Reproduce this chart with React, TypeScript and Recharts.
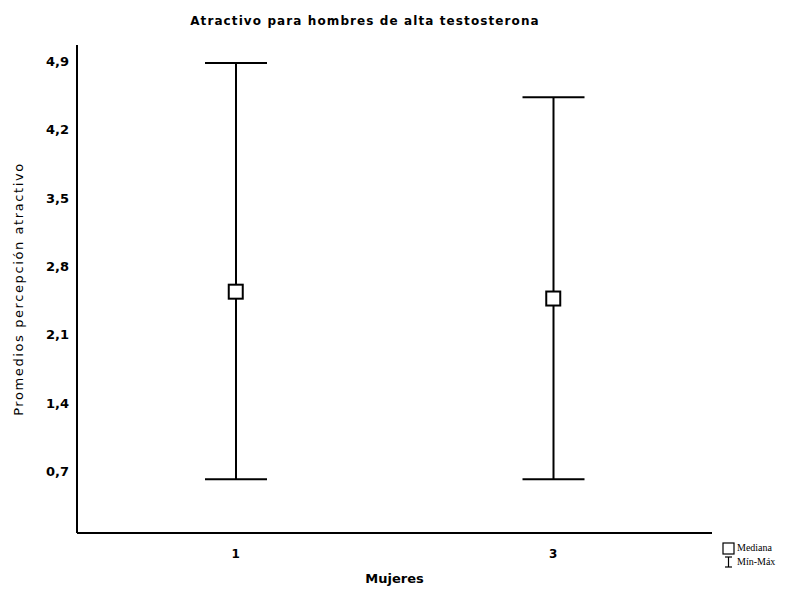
import React from 'react';
import { ComposedChart, Bar, Scatter, XAxis, YAxis } from 'recharts';

const categories = ['1', '3'];
const maxValues = [4.88, 4.53];
const minValues = [0.62, 0.62];
const medianValues = [2.54, 2.47];
const yTicks = [0.7, 1.4, 2.1, 2.8, 3.5, 4.2, 4.9];

const data = categories.map((c, i) => ({
  cat: c,
  range: [minValues[i], maxValues[i]],
  median: medianValues[i],
}));

const FONT = '"DejaVu Sans", Verdana, sans-serif';

const RangeShape = (props: any) => {
  const { x, y, width, height } = props;
  const top = Math.min(y, y + height);
  const bottom = Math.max(y, y + height);
  const cx = x + width / 2;
  return (
    <g stroke="#000">
      <line x1={cx} x2={cx} y1={top} y2={bottom} strokeWidth={2} />
      <line x1={x} x2={x + width} y1={top} y2={top} strokeWidth={2} />
      <line x1={x} x2={x + width} y1={bottom} y2={bottom} strokeWidth={2} />
    </g>
  );
};

const MedianShape = (props: any) => {
  const { cx, cy } = props;
  return <rect x={cx - 7} y={cy - 7} width={14} height={14} fill="#fff" stroke="#000" strokeWidth={2} />;
};

const fmt = (v: number) => v.toFixed(1).replace('.', ',');

export default function App() {
  return (
    <div style={{ position: 'absolute', left: 0, top: 0, width: 794, height: 594, background: '#fff' }}>
      <div
        style={{
          position: 'absolute', left: 0, width: 730, top: 14, textAlign: 'center',
          fontFamily: FONT, fontWeight: 'bold', fontSize: 12, letterSpacing: 1.1, color: '#000',
        }}
      >
        Atractivo para hombres de alta testosterona
      </div>
      <ComposedChart width={794} height={594} data={data} margin={{ top: 45, right: 82, bottom: 6, left: 0 }}>
        <XAxis
          dataKey="cat"
          type="category"
          height={55}
          axisLine={{ stroke: '#000', strokeWidth: 2 }}
          tickLine={false}
          tick={{ fill: '#000', fontSize: 12, fontWeight: 'bold', fontFamily: FONT }}
          tickMargin={10}
          label={{ value: 'Mujeres', position: 'insideBottom', offset: 5, fill: '#000', fontSize: 13, fontWeight: 'bold', fontFamily: FONT }}
        />
        <YAxis
          type="number"
          domain={[0.07, 5.065]}
          ticks={yTicks}
          width={77}
          interval={0}
          allowDataOverflow
          tickFormatter={fmt}
          axisLine={{ stroke: '#000', strokeWidth: 2 }}
          tickLine={false}
          tick={{ fill: '#000', fontSize: 13, fontWeight: 'bold', fontFamily: FONT }}
          label={{ value: 'Promedios percepción atractivo', angle: -90, position: 'insideLeft', offset: 18, style: { textAnchor: 'middle', letterSpacing: 1.6 }, fill: '#000', fontSize: 13, fontFamily: FONT }}
        />
        <Bar dataKey="range" barSize={62} shape={<RangeShape />} isAnimationActive={false} />
        <Scatter dataKey="median" shape={<MedianShape />} isAnimationActive={false} />
      </ComposedChart>
      <div style={{ position: 'absolute', left: 722, top: 541, fontFamily: '"Liberation Serif", serif', fontSize: 10, color: '#000', lineHeight: '14px' }}>
        <div style={{ display: 'flex', alignItems: 'center' }}>
          <svg width={13} height={13} style={{ marginRight: 2 }}>
            <rect x={1} y={1} width={11} height={11} fill="#fff" stroke="#000" strokeWidth={1.2} />
          </svg>
          Mediana
        </div>
        <div style={{ display: 'flex', alignItems: 'center' }}>
          <svg width={13} height={12} style={{ marginRight: 2 }}>
            <g stroke="#000" strokeWidth={1.2}>
              <line x1={3} x2={10} y1={1} y2={1} />
              <line x1={6.5} x2={6.5} y1={1} y2={11} />
              <line x1={3} x2={10} y1={11} y2={11} />
            </g>
          </svg>
          Mín-Máx
        </div>
      </div>
    </div>
  );
}
